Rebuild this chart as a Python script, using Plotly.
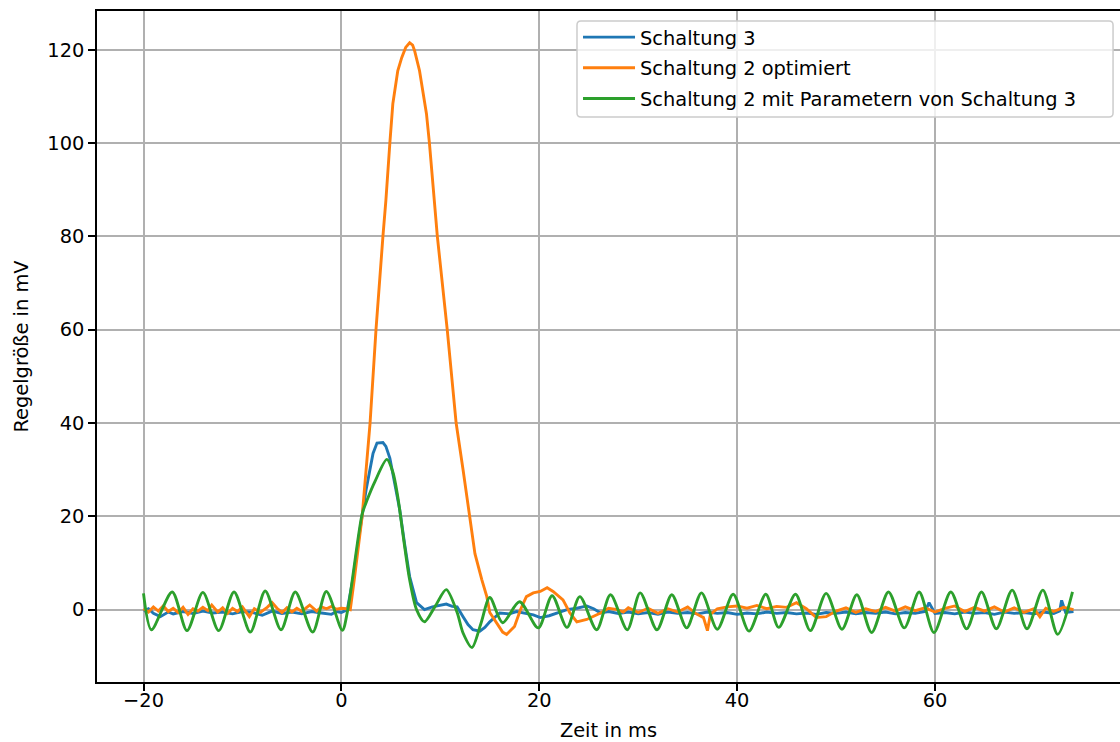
import plotly.graph_objects as go

# ---- data ----
t_s3 = [-20, -19.5, -19, -18.3, -17.5, -17, -16, -15, -14, -13, -12, -11, -10, -9, -8, -7, -6, -5, -4, -3,
        -2, -1, -0.5, 0, 0.6, 1.2, 1.8, 2.5, 3.2, 3.6, 4.2, 4.5, 4.9, 5.4, 5.9, 6.4, 6.9, 7.6, 8.4, 9.2,
        9.9, 10.6, 11.2, 11.7, 12.3, 12.8, 13.3, 14.0, 14.5, 15.0, 16.0, 17.0, 17.7, 18.5, 19.4, 20.1, 21, 22, 22.8, 23.8,
        24.8, 25.5, 26.2, 27, 28, 29, 30, 31, 32, 33, 34, 35, 36, 37, 38, 39, 40, 41, 42, 43,
        44, 45, 46, 47, 48, 49, 50, 51, 52, 53, 54, 55, 56, 57, 58, 59, 59.4, 60, 61, 62,
        63, 64, 65, 66, 67, 68, 69, 70, 71, 72, 72.6, 72.8, 73.2, 74]
y_s3 = [-0.3, 0.2, -0.8, -1.5, -0.5, -0.9, -0.4, -0.8, -0.3, -0.7, -0.5, -0.9, -0.4, -0.6, -1.2, -0.3, -0.8, -0.5, -0.9, -0.4,
        -0.7, -1.0, -0.4, -0.6, 0, 7, 16, 25.7, 33.5, 35.7, 35.8, 35.0, 32.5, 27, 21.4, 14, 7.1, 1.5, 0, 0.6,
        0.9, 1.2, 0.7, 0.6, -1.5, -3.2, -4.3, -4.6, -3.8, -2.6, -0.7, -0.9, -0.4, -0.8, -1.1, -1.7, -1.3, -0.6, 0, 0.3,
        0.8, 0.2, -0.7, -0.4, -0.8, -0.5, -0.9, -0.6, -1.0, -0.5, -0.8, -0.6, -0.9, -0.5, -0.8, -0.6, -1.0, -0.7, -0.9, -0.5,
        -0.8, -0.6, -0.9, -0.7, -1.0, -0.6, -0.8, -0.5, -0.9, -0.6, -0.8, -0.5, -0.9, -0.6, -0.8, -0.4, 1.5, -0.8, -0.6, -0.9,
        -0.5, -0.8, -0.6, -1.0, -0.5, -0.8, -0.6, -0.9, -0.5, -0.8, -0.3, 2.0, -0.6, -0.4]

t_s2 = [-20, -19.5, -19, -18.5, -18, -17.5, -17, -16.5, -16, -15.5, -15, -14.5, -14, -13.5, -13.1, -12.5, -12, -11.5, -11, -10.5,
        -10, -9.3, -8.8, -8.2, -7.5, -7, -6.5, -6, -5.5, -5, -4.5, -4, -3.5, -3.2, -2.5, -2, -1.5, -1, -0.5, 0,
        0.5, 0.9, 1.3, 2.1, 2.9, 3.5, 4.2, 4.5, 4.9, 5.2, 5.7, 6.1, 6.5, 6.9, 7.2, 7.4, 7.9, 8.6, 8.9, 9.4,
        9.7, 10.7, 11.1, 11.6, 12.3, 13.0, 13.5, 14.2, 14.7, 15.0, 15.7, 16.3, 16.7, 17.5, 18.1, 18.7, 19.4, 20.1, 20.8, 21.4,
        22.4, 23.1, 23.8, 24.8, 26.2, 27, 27.9, 28.5, 29, 30, 31, 32, 33, 34, 35, 35.8, 36.6, 37.0, 37.3, 38,
        39, 40, 41, 42, 43, 44, 45, 46, 47, 48, 49, 50, 51, 52, 53, 54, 55, 56, 57, 58,
        59, 60, 61, 62, 63, 64, 65, 66, 67, 68, 69, 70, 70.6, 71.2, 72, 73, 74]
y_s2 = [0.2, -0.5, 0.6, -0.3, 0.8, -0.4, 0.3, -0.6, 0.5, -1.0, 0.2, -0.3, 0.5, -0.2, 1.0, -0.5, 0.4, -0.8, 0.3, -0.4,
        0.6, -1.5, 0.2, -0.6, 0.5, 1.5, 0.3, -0.6, 0.4, -0.5, 0.3, -0.4, 0.5, 1.0, -0.3, 0.6, 0.2, 0.7, 0.1, 0.3,
        0.2, 0, 6.4, 20, 40, 60, 80, 87.7, 100, 108.4, 115.5, 118.3, 120.5, 121.5, 121, 119.8, 115.5, 106.3, 100, 87.7,
        80, 60, 50.7, 40, 30, 20, 12, 6.4, 2.8, -0.6, -2.8, -4.8, -5.3, -3.6, 0, 2.8, 3.6, 3.9, 4.7, 3.9,
        2.1, -0.7, -2.6, -2.1, -0.7, 0.3, 0, -0.5, 0.4, -0.6, 0.3, -0.8, 0.2, -0.5, 0.6, -0.8, -1.7, -4.5, -1.0, 0.2,
        0.6, 0.8, 0.3, 0.9, 0.2, 0.7, 0.5, 1.5, 0.2, -1.7, -1.5, -0.3, 0.4, -0.6, 0.2, -0.4, 0.5, -0.3, 0.6, -0.2,
        0.4, -0.5, 0.3, 0.8, -0.4, 0.5, -0.3, 0.6, -0.5, 0.4, -0.6, 0.2, -1.5, 0.3, -0.4, 0.5, 0]

t_s2p3 = [-20, -19.2, -17.1, -15.6, -14.0, -12.4, -10.85, -9.2, -7.7, -6.1, -4.66, -2.9, -1.52, 0.1, 0.65, 2.1, 2.6, 3.4, 4.6, 5.2,
          5.7, 6.3, 6.9, 7.6, 8.4, 9.5, 10.6, 11.7, 12.3, 13.2, 14.1, 15.0, 16.3, 18.0, 19.9, 21.3, 22.8, 24.1, 25.8, 27.2,
          28.9, 30.2, 31.9, 33.4, 34.9, 36.4, 38.0, 39.6, 41.2, 42.9, 44.2, 45.9, 47.4, 49.0, 50.6, 52.1, 53.6, 55.3, 56.9, 58.4,
          59.9, 61.6, 63.2, 64.7, 66.2, 67.8, 69.3, 70.9, 72.4, 73.9]
y_s2p3 = [3.5, -4.3, 3.8, -4.5, 3.7, -4.5, 3.8, -4.8, 4.0, -4.3, 3.8, -4.8, 3.9, -4.4, 0, 20.5, 23.5, 27.5, 32.2, 29.5,
          24.2, 15, 6.4, 0, -2.6, 0.8, 4.3, -0.6, -5, -8.1, -3, 2.6, -2.8, 1.7, -3.9, 3.0, -3.8, 2.8, -4.3, 3.2,
          -4.3, 3.6, -4.3, 3.2, -3.9, 3.6, -4.2, 3.3, -4.6, 3.3, -3.8, 3.3, -4.5, 3.5, -4.2, 3.2, -4.9, 3.8, -3.9, 3.8,
          -4.9, 3.8, -4.1, 3.8, -4.1, 4.2, -4.1, 4.2, -5.3, 3.8]

series_names = ["Schaltung 3", "Schaltung 2 optimiert", "Schaltung 2 mit Parametern von Schaltung 3"]
x_ticks = [-20, 0, 20, 40, 60]
x_ticklabels = ["\u221220", "0", "20", "40", "60"]
y_ticks = [0, 20, 40, 60, 80, 100, 120]

colors = ["#1f77b4", "#ff7f0e", "#2ca02c"]
FONT = "DejaVu Sans"
FS = 19.4

fig = go.Figure()
fig.add_trace(go.Scatter(x=t_s3, y=y_s3, mode="lines", name=series_names[0], legendgroup="a",
                         line=dict(color=colors[0], width=2.9)))
fig.add_trace(go.Scatter(x=t_s2, y=y_s2, mode="lines", name=series_names[1], legendgroup="b",
                         line=dict(color=colors[1], width=2.9)))
fig.add_trace(go.Scatter(x=t_s2p3, y=y_s2p3, mode="lines", name=series_names[2], legendgroup="c",
                         line=dict(color=colors[2], width=2.9, shape="spline", smoothing=0.8)))

axis_common = dict(showline=True, linecolor="black", linewidth=1.5, ticks="outside", ticklen=7,
                   tickwidth=1.5, tickcolor="black", showgrid=True, gridcolor="#b0b0b0", gridwidth=1.5,
                   zeroline=False, tickfont=dict(family=FONT, size=FS, color="black"))

# legend frame (rounded box like matplotlib's), in paper coordinates
x0, x1 = 0.4692, 0.9932
y0, y1 = 0.8420, 0.9851
rx, ry = 4 / 1023, 4 / 671
frame_path = (f"M{x0+rx},{y1} L{x1-rx},{y1} Q{x1},{y1} {x1},{y1-ry} L{x1},{y0+ry} Q{x1},{y0} {x1-rx},{y0} "
              f"L{x0+rx},{y0} Q{x0},{y0} {x0},{y0+ry} L{x0},{y1-ry} Q{x0},{y1} {x0+rx},{y1} Z")

fig.update_layout(
    width=1120, height=742,
    margin=dict(l=97, r=0, t=11, b=60),
    paper_bgcolor="white", plot_bgcolor="white",
    font=dict(family=FONT, size=FS, color="black"),
    showlegend=True,
    shapes=[dict(type="path", xref="paper", yref="paper", path=frame_path, layer="above",
                 fillcolor="rgba(255,255,255,0.8)", line=dict(color="#cccccc", width=1.5))],
    legend=dict(x=0.4702, y=0.9896, xanchor="left", yanchor="top",
                bgcolor="rgba(0,0,0,0)", borderwidth=0,
                font=dict(family=FONT, size=FS, color="black"), tracegroupgap=2.5, itemwidth=52),
    xaxis=dict(range=[-24.7, 78.7], tickvals=x_ticks, ticktext=x_ticklabels, mirror=True,
               ticklabelstandoff=-7,
               title=dict(text="Zeit in ms", font=dict(family=FONT, size=FS, color="black"), standoff=14),
               **axis_common),
    yaxis=dict(range=[-15.5, 128.3], tickvals=y_ticks, mirror=False,
               title=dict(text="Regelgröße in mV", font=dict(family=FONT, size=FS, color="black"), standoff=14),
               **axis_common),
)

fig.write_html("out.html")
